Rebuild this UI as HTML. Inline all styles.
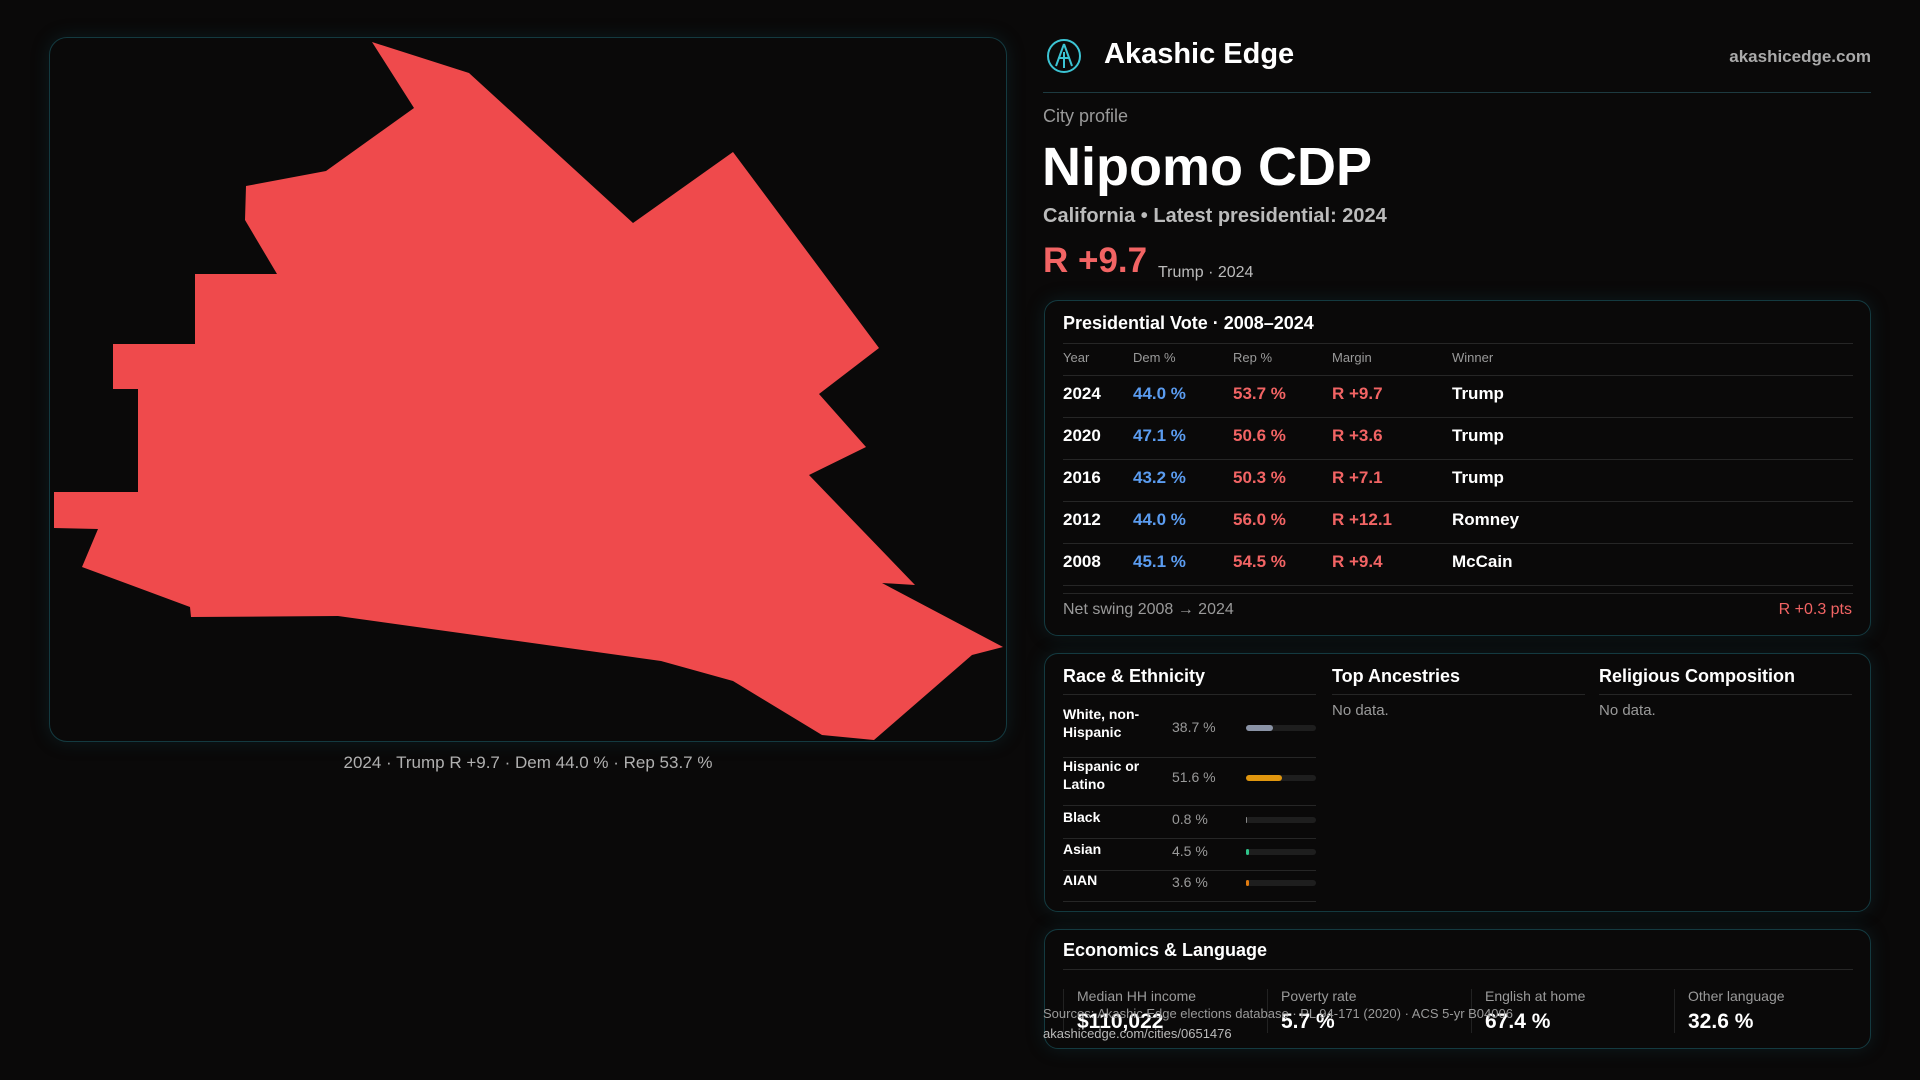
<!DOCTYPE html>
<html><head><meta charset="utf-8">
<style>
*{margin:0;padding:0;box-sizing:border-box}
body{width:1920px;height:1080px;background:#0a0909;font-family:"Liberation Sans",sans-serif;color:#fff;position:relative;overflow:hidden}
.a{position:absolute;white-space:nowrap}
.card{position:absolute;border:1px solid #143a40;border-radius:14px;background:#0a0909;box-shadow:0 0 18px rgba(20,80,90,0.25)}
.hl{position:absolute;height:1px;background:#262626}
.g{color:#9a9a9a}.b{color:#5b9cf0}.r{color:#f26464}
</style></head><body>
<div class="card" style="left:49px;top:37px;width:958px;height:705px;border-radius:18px"></div>
<svg class="a" style="left:0;top:0" width="1920" height="1080">
<polygon fill="#ef4a4c" points="372,42 469,73 633,223 733,152 879,348 819,394 866,447 809,475 915,585 882,583 1003,647 972,655 874,740 822,735 733,681 661,661 338,616 191,617 190,607 82,567 98,529 54,528 54,492 138,492 138,389 113,389 113,344 195,344 195,274 277,274 245,220 246,186 326,171 414,108"/>
</svg>
<div class="a g" style="left:0;width:1056px;text-align:center;top:753px;font-size:17px;color:#b0b0b0">2024 · Trump R +9.7 · Dem 44.0 % · Rep 53.7 %</div>

<svg class="a" style="left:1046px;top:38px" width="36" height="36"><circle cx="18" cy="18" r="16" fill="none" stroke="#3cc4d4" stroke-width="2"/><path d="M18 6 L10 28 M18 6 L26 28 M12 20 L24 20 M18 14 L18 30" stroke="#3cc4d4" stroke-width="2" fill="none"/></svg>
<div class="a" style="left:1104px;top:38px;font-size:29px;font-weight:bold">Akashic Edge</div>
<div class="a" style="right:49px;top:47px;font-size:17px;color:#aaa;font-weight:bold">akashicedge.com</div>
<div class="hl" style="left:1043px;width:828px;top:92px;background:#1d3a40"></div>
<div class="a g" style="left:1043px;top:106px;font-size:18px">City profile</div>
<div class="a" style="left:1042px;top:136px;font-size:54px;font-weight:bold">Nipomo CDP</div>
<div class="a" style="left:1043px;top:205px;font-size:20px;color:#bbb;font-weight:bold">California • Latest presidential: 2024</div>
<div class="a r" style="left:1043px;top:241px;font-size:35px;font-weight:bold">R +9.7</div>
<div class="a" style="left:1158px;top:264px;font-size:16px;color:#bbb">Trump · 2024</div>

<div class="card" style="left:1044px;top:300px;width:827px;height:336px"></div>
<div class="a" style="left:1063px;top:313px;font-size:18px;font-weight:bold">Presidential Vote · 2008–2024</div>
<div class="hl" style="left:1063px;width:790px;top:343px"></div>
<div id="tbl"></div>
<div class="hl" style="left:1063px;width:790px;top:593px"></div>
<div class="a g" style="left:1063px;top:601px;font-size:16px">Net swing 2008 → 2024</div>
<div class="a r" style="right:68px;top:601px;font-size:16px">R +0.3 pts</div>

<div class="card" style="left:1044px;top:653px;width:827px;height:259px"></div>
<div class="a" style="left:1063px;top:666px;font-size:18px;font-weight:bold">Race &amp; Ethnicity</div>
<div class="a" style="left:1332px;top:666px;font-size:18px;font-weight:bold">Top Ancestries</div>
<div class="a" style="left:1599px;top:666px;font-size:18px;font-weight:bold">Religious Composition</div>
<div class="hl" style="left:1063px;width:253px;top:694px"></div>
<div class="hl" style="left:1332px;width:253px;top:694px"></div>
<div class="hl" style="left:1599px;width:253px;top:694px"></div>
<div class="a g" style="left:1332px;top:702px;font-size:15px">No data.</div>
<div class="a g" style="left:1599px;top:702px;font-size:15px">No data.</div>
<div id="race"></div>

<div class="card" style="left:1044px;top:929px;width:827px;height:120px"></div>
<div class="a" style="left:1063px;top:940px;font-size:18px;font-weight:bold">Economics &amp; Language</div>
<div class="hl" style="left:1063px;width:790px;top:969px"></div>
<div id="econ"></div>
<div class="a g" style="left:1043px;top:1006px;font-size:13px">Sources: Akashic Edge elections database · PL 94-171 (2020) · ACS 5-yr B04006</div>
<div class="a" style="left:1043px;top:1026px;font-size:13px;color:#bbb">akashicedge.com/cities/0651476</div>

<script>
const years=["2024","2020","2016","2012","2008"];
const demPct=[44.0,47.1,43.2,44.0,45.1];
const repPct=[53.7,50.6,50.3,56.0,54.5];
const margins=["R +9.7","R +3.6","R +7.1","R +12.1","R +9.4"];
const winners=["Trump","Trump","Trump","Romney","McCain"];
const raceLabels=["White, non-<br>Hispanic","Hispanic or<br>Latino","Black","Asian","AIAN"];
const raceValues=[38.7,51.6,0.8,4.5,3.6];
const raceColors=["#8a93a6","#e0960e","#888","#2fc48a","#e07b10"];
const econLabels=["Median HH income","Poverty rate","English at home","Other language"];
const econValues=["$110,022","5.7 %","67.4 %","32.6 %"];

function add(parent,cls,style,html,name,inter){const d=document.createElement('div');d.className=cls;d.style.cssText=style;d.innerHTML=html;


parent.appendChild(d);return d;}
const T=document.getElementById('tbl');
const cols=[1063,1133,1233,1332,1452];
["Year","Dem %","Rep %","Margin","Winner"].forEach((h,i)=>add(T,'a g',`left:${cols[i]}px;top:350px;font-size:13px`,h,'column-header','false'));
add(T,'hl','left:1063px;width:790px;top:375px','','header-rule','false');
years.forEach((y,i)=>{const top=384+i*42;
add(T,'a',`left:${cols[0]}px;top:${top}px;font-size:17px;font-weight:bold`,y,'row-year','false');
add(T,'a b',`left:${cols[1]}px;top:${top}px;font-size:17px;font-weight:bold`,demPct[i].toFixed(1)+' %','row-dem','false');
add(T,'a r',`left:${cols[2]}px;top:${top}px;font-size:17px;font-weight:bold`,repPct[i].toFixed(1)+' %','row-rep','false');
add(T,'a r',`left:${cols[3]}px;top:${top}px;font-size:17px;font-weight:bold`,margins[i],'row-margin','false');
add(T,'a',`left:${cols[4]}px;top:${top}px;font-size:17px;font-weight:bold`,winners[i],'row-winner','false');
add(T,'hl',`left:1063px;width:790px;top:${top+33}px`,'','row-rule','false');});
const R=document.getElementById('race');
const rowTops=[705,757,808,840,871];const rowH=[46,42,24,24,24];
raceValues.forEach((v,i)=>{const t=rowTops[i],c=t+rowH[i]/2;
add(R,'a',`left:1063px;top:${t}px;font-size:14px;font-weight:bold;line-height:18px`,raceLabels[i],'race-label','false');
add(R,'a g',`left:1172px;top:${c-9}px;font-size:14px`,v.toFixed(1)+' %','race-value','false');
add(R,'a',`left:1246px;top:${c-3}px;width:70px;height:6px;border-radius:3px;background:#1e1e1e`,'','race-bar-track','false');
add(R,'a',`left:1246px;top:${c-3}px;width:${Math.max(1,v/100*70)}px;height:6px;border-radius:3px;background:${raceColors[i]}`,'','race-bar','false');
add(R,'hl',`left:1063px;width:253px;top:${t+rowH[i]+6}px`,'','race-rule','false');});
const E=document.getElementById('econ');const ex=[1063,1267,1471,1674];
econLabels.forEach((l,i)=>{
add(E,'a',`left:${ex[i]}px;top:989px;width:1px;height:44px;background:#222`,'','econ-divider','false');
add(E,'a g',`left:${ex[i]+14}px;top:988px;font-size:14px`,l,'econ-label','false');
add(E,'a',`left:${ex[i]+14}px;top:1010px;font-size:21px;font-weight:bold`,econValues[i],'econ-value','false');});
</script>
</body></html>
